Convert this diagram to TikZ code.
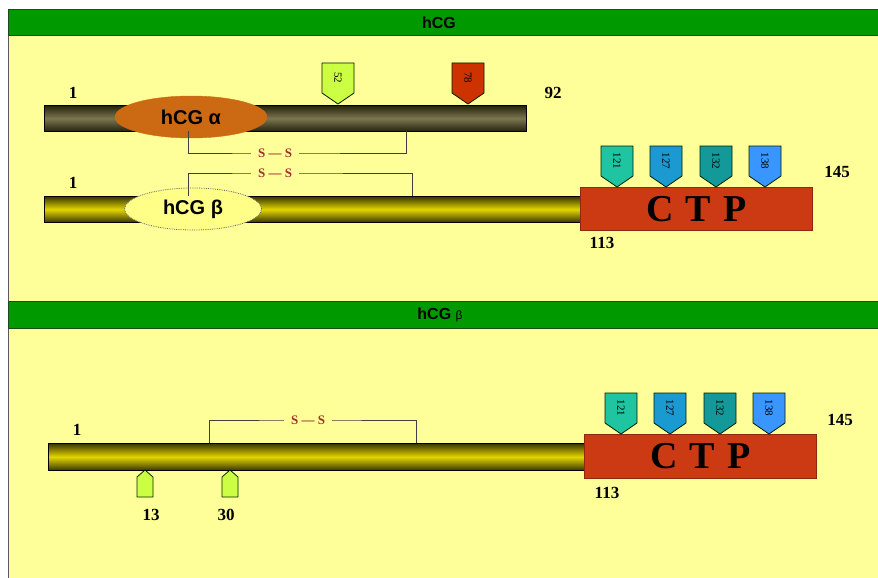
\documentclass[tikz,border=0pt]{standalone}
\usepackage{fontspec}
\setmainfont{Liberation Serif}
\newfontfamily\arialfont{Liberation Sans}
\usetikzlibrary{shapes.geometric}

\definecolor{panel}{HTML}{FFFF99}
\definecolor{titlegreen}{HTML}{009900}
\definecolor{titleedge}{HTML}{1E4A1E}
\definecolor{alphadark}{HTML}{24220F}
\definecolor{alphamid}{HTML}{7C7650}
\definecolor{betadark}{HTML}{3A3600}
\definecolor{betamid}{HTML}{E2D500}
\definecolor{alphaorange}{HTML}{CC6A14}
\definecolor{betapale}{HTML}{FFFF88}
\definecolor{ctpred}{HTML}{CC3A14}
\definecolor{bondred}{HTML}{A03030}
\definecolor{limegreen}{HTML}{CCFF44}
\definecolor{tagred}{HTML}{CC3300}
\definecolor{tagA}{HTML}{1FC4A0}
\definecolor{tagB}{HTML}{1A9AD0}
\definecolor{tagC}{HTML}{14999A}
\definecolor{tagD}{HTML}{3A96FF}

\newcommand{\ctptext}{C\hspace{12pt}T\hspace{12pt}P}

\tikzset{
  titlefill/.style={fill=titlegreen, draw=titleedge, line width=1pt},
  titletext/.style={font=\arialfont\bfseries\fontsize{16}{16}\selectfont, inner sep=0pt},
  alphabar/.style={draw=black, line width=0.8pt, top color=alphadark,
    bottom color=alphadark, middle color=alphamid, inner sep=0pt},
  betabar/.style={draw=black, line width=0.8pt, top color=betadark,
    bottom color=betadark, middle color=betamid, inner sep=0pt},
  ctpbox/.style={fill=ctpred, draw=ctpred!70!black, line width=0.6pt, inner sep=0pt,
    font=\bfseries\fontsize{38}{38}\selectfont},
  numlabel/.style={font=\bfseries\fontsize{17}{17}\selectfont, inner sep=0pt},
  bond/.style={draw=black!75, line width=0.8pt},
  sslabel/.style={fill=panel, text=bondred, inner xsep=7pt, inner ysep=1pt,
    font=\bfseries\fontsize{13}{13}\selectfont},
  ellipsetext/.style={font=\arialfont\bfseries\fontsize{20}{20}\selectfont},
  pics/tagdown/.style 2 args={code={
    \draw[fill=#1, draw=black!70!green!40!black, line width=0.8pt]
      (-16,0) -- (16,0) -- (16,30) -- (0,41) -- (-16,30) -- cycle;
    \node[rotate=-90, inner sep=0pt, font=\fontsize{11}{11}\selectfont] at (0,15) {#2};
  }},
  pics/tagup/.style={code={
    \draw[fill=limegreen, draw=black!60!green!40!black, line width=0.8pt]
      (0,0) -- (8,7) -- (8,27) -- (-8,27) -- (-8,7) -- cycle;
  }}
}

\begin{document}
\begin{tikzpicture}[x=1pt,y=-1pt]
\useasboundingbox (0,0) rectangle (878,578);
\fill[white] (0,0) rectangle (878,578);

% panels and title bars
\draw[fill=panel, draw=black!65, line width=1pt] (8,10) rectangle (884,584);
\draw[titlefill] (8,10) rectangle (884,36);
\node[titletext] (title1) at (439,23) {hCG};
\draw[titlefill] (8,301) rectangle (884,328);
\node[titletext] (title2) at (440,315) {hCG {\mdseries\fontsize{12}{12}\selectfont β}};

% ---------- upper panel: hCG alpha/beta dimer ----------
\node[alphabar, anchor=north west, minimum width=482, minimum height=26] (abar) at (44,105) {};
\node[ellipse, fill=alphaorange, draw=alphaorange, minimum width=152, minimum height=42,
      inner sep=0pt, ellipsetext] (alpha) at (191,117) {hCG α};
\node[numlabel] (a1lab) at (73,93) {1};
\node[numlabel] (a92lab) at (553,93) {92};

\pic (t52) at (338,63) {tagdown={limegreen}{52}};
\pic (t78) at (468,63) {tagdown={tagred}{78}};

\node[betabar, anchor=north west, minimum width=538, minimum height=26] (bbar) at (44,196) {};
\node[ellipse, fill=betapale, draw=black!60, densely dotted, line width=0.8pt,
      minimum width=137, minimum height=42, inner sep=0pt, ellipsetext] (beta) at (193,209) {hCG β};
\node[numlabel] (b1lab) at (73,183) {1};

% disulfide bridges
\coordinate (sa1) at (188,131);
\coordinate (sa2) at (406,131);
\coordinate (ssa) at (275,153);
\draw[bond] (sa1) |- (ssa) -| (sa2);
\node[sslabel] (ss1) at (ssa) {S — S};

\coordinate (sb1) at (188,196);
\coordinate (sb2) at (412,196);
\coordinate (ssb) at (275,173);
\draw[bond] (sb1) |- (ssb) -| (sb2);
\node[sslabel] (ss2) at (ssb) {S — S};

\node[ctpbox, anchor=north west, minimum width=232, minimum height=43] (ctp1) at (580,187) {\ctptext};
\pic (u121) at (617,146) {tagdown={tagA}{121}};
\pic (u127) at (666,146) {tagdown={tagB}{127}};
\pic (u132) at (716,146) {tagdown={tagC}{132}};
\pic (u138) at (765,146) {tagdown={tagD}{138}};
\node[numlabel] (c145a) at (837,172) {145};
\node[numlabel] (c113a) at (602,243) {113};

% ---------- lower panel: free hCG beta ----------
\node[betabar, anchor=north west, minimum width=537, minimum height=27] (bbar2) at (48,443) {};
\node[numlabel] (d1lab) at (77,430) {1};

\coordinate (sc1) at (209,443);
\coordinate (sc2) at (416,443);
\coordinate (ssc) at (308,420);
\draw[bond] (sc1) |- (ssc) -| (sc2);
\node[sslabel] (ss3) at (ssc) {S — S};

\pic (n13) at (145,470) {tagup};
\pic (n30) at (230,470) {tagup};
\node[numlabel] (l13) at (151,515) {13};
\node[numlabel] (l30) at (226,515) {30};

\node[ctpbox, anchor=north west, minimum width=232, minimum height=44] (ctp2) at (584,434) {\ctptext};
\pic (v121) at (621,393) {tagdown={tagA}{121}};
\pic (v127) at (670,393) {tagdown={tagB}{127}};
\pic (v132) at (720,393) {tagdown={tagC}{132}};
\pic (v138) at (769,393) {tagdown={tagD}{138}};
\node[numlabel] (c145b) at (840,420) {145};
\node[numlabel] (c113b) at (607,493) {113};
\end{tikzpicture}
\end{document}
